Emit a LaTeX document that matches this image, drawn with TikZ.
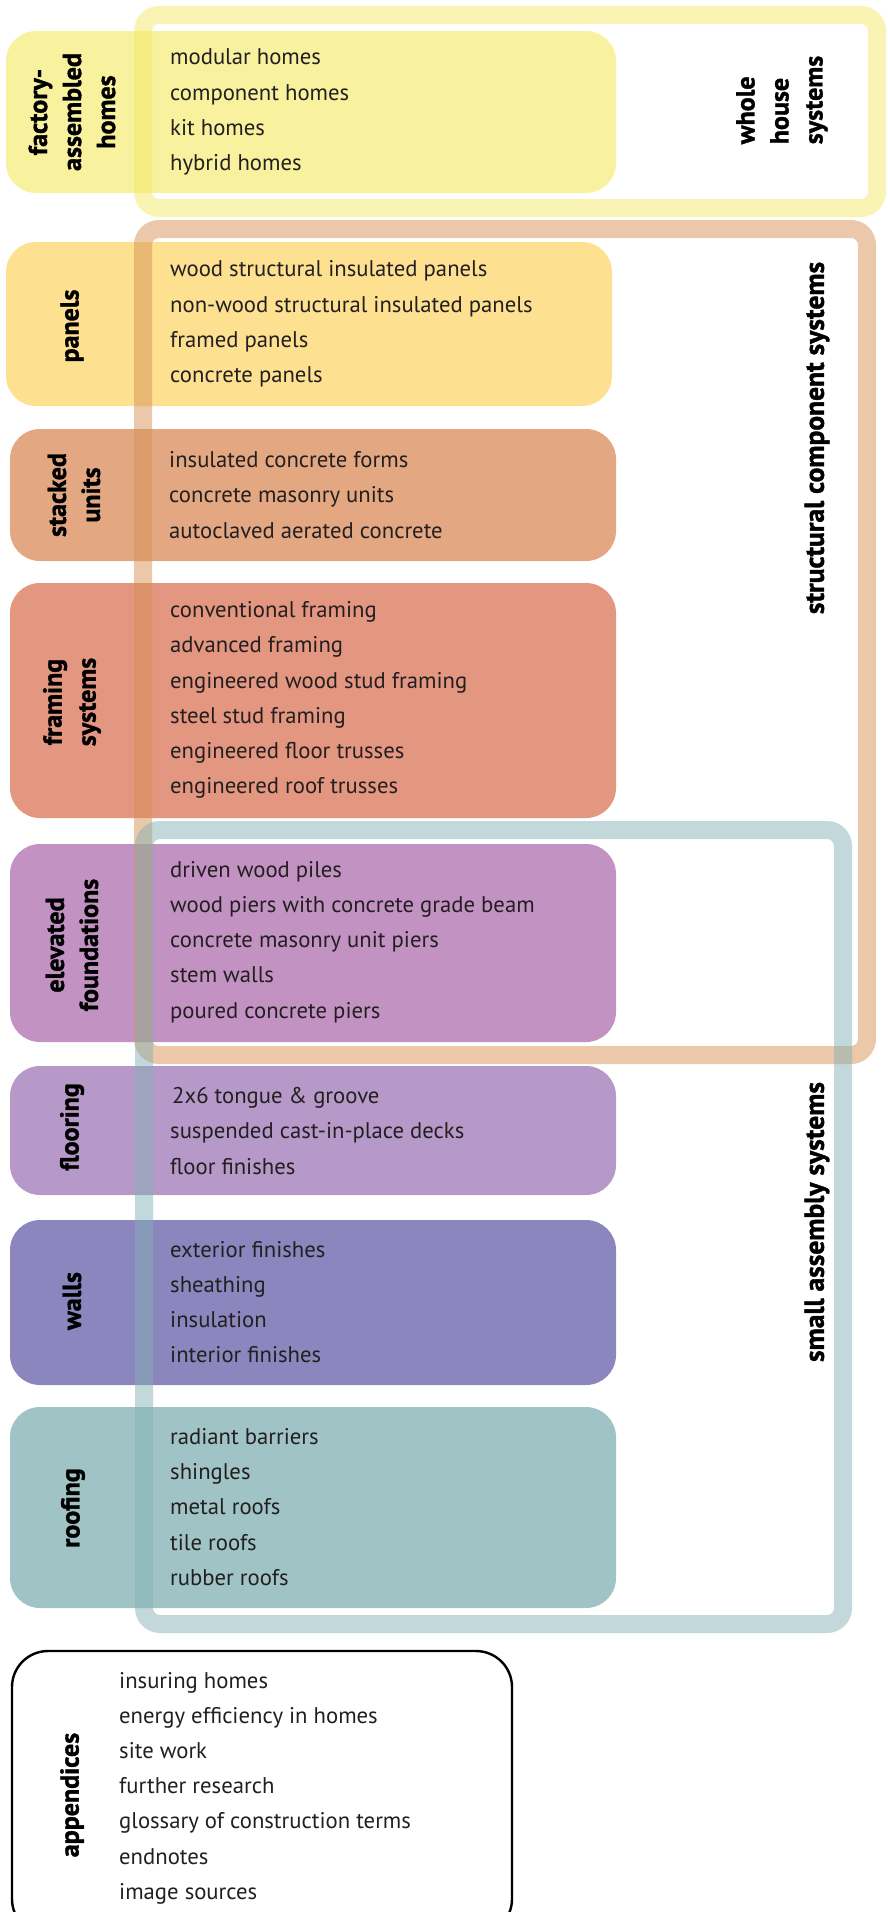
\documentclass[tikz,border=0pt]{standalone}
\usepackage{fontspec}
\setmainfont{PT Sans}
\newfontfamily\labfam{PT Sans}[BoldFeatures={FakeBold=1.4}]
\definecolor{cFac}{RGB}{248,241,158}
\definecolor{cPan}{RGB}{253,225,145}
\definecolor{cSta}{RGB}{227,168,130}
\definecolor{cFra}{RGB}{227,150,128}
\definecolor{cFou}{RGB}{194,146,195}
\definecolor{cFlo}{RGB}{182,153,200}
\definecolor{cWal}{RGB}{139,134,190}
\definecolor{cRoo}{RGB}{160,195,197}
\definecolor{rWhole}{RGB}{243,233,105}
\definecolor{rStruct}{RGB}{215,145,85}
\definecolor{rSmall}{RGB}{133,177,181}
\definecolor{ink}{RGB}{35,31,32}
\newcommand\labfnt{\labfam\bfseries\fontsize{26}{34}\selectfont}
\newcommand\biglabfnt{\labfam\bfseries\fontsize{27.5}{35}\selectfont}
\newcommand\itmfnt{\fontsize{22.7}{35.2}\selectfont}
\begin{document}
\begin{tikzpicture}[x=1pt,y=-1pt,
  catbox/.style={rounded corners=30pt, inner sep=0pt, outer sep=0pt, anchor=north west, draw=none},
  ring/.style={line width=18pt, rounded corners=16pt, draw opacity=0.5},
  lab/.style={font=\labfnt, text=black, align=center, rotate=90, inner sep=0pt},
  biglab/.style={lab, font=\biglabfnt},
  itm/.style={font=\itmfnt, text=ink, align=left, anchor=west, inner sep=0pt}]
\useasboundingbox (0,0) rectangle (888,1912);
\clip (0,0) rectangle (888,1912);
% category boxes
\node[catbox, fill=cFac, minimum width=610pt, minimum height=162pt] (fac) at (6,31) {};
\node[catbox, fill=cPan, minimum width=606pt, minimum height=164pt] (pan) at (6,242) {};
\node[catbox, fill=cSta, minimum width=606pt, minimum height=132pt] (sta) at (10,429) {};
\node[catbox, fill=cFra, minimum width=606pt, minimum height=235pt] (fra) at (10,583) {};
\node[catbox, fill=cFou, minimum width=606pt, minimum height=198pt] (fou) at (10,844) {};
\node[catbox, fill=cFlo, minimum width=606pt, minimum height=129pt] (flo) at (10,1066) {};
\node[catbox, fill=cWal, minimum width=606pt, minimum height=165pt] (wal) at (10,1220) {};
\node[catbox, fill=cRoo, minimum width=606pt, minimum height=201pt] (roo) at (10,1407) {};
\node[catbox, rounded corners=36pt, draw=black, line width=2.4pt, minimum width=500pt, minimum height=284pt] (app) at (12,1651) {};
% grouping rings
\draw[ring, draw=rWhole] (143,15) rectangle (877,208);
\draw[ring, draw=rStruct] (143,229) rectangle (867,1055);
\draw[ring, draw=rSmall] (144,830) rectangle (843,1624);
% labels
\node[lab] (lfac) at (72,112) {factory-\\assembled\\homes};
\node[lab] (lpan) at (72,326) {panels};
\node[lab] (lsta) at (74,495) {stacked\\units};
\node[lab] (lfra) at (72,702) {framing\\systems};
\node[lab] (lfou) at (72,945) {elevated\\foundations};
\node[lab] (lflo) at (72,1127) {flooring};
\node[lab] (lwal) at (72,1301) {walls};
\node[lab] (lroo) at (73,1508) {roofing};
\node[lab] (lapp) at (72,1795) {appendices};
\node[lab, align=left] (lwhole) at (782,100) {whole\\house\\systems};
\node[biglab] (lstruct) at (817,438) {structural component systems};
\node[biglab] (lsmall) at (817,1222) {small assembly systems};
% items
\node[itm] (ifac) at (170,112) {modular homes\\component homes\\kit homes\\hybrid homes};
\node[itm] (ipan) at (170,324) {wood structural insulated panels\\non-wood structural insulated panels\\framed panels\\concrete panels};
\node[itm] (ista) at (169,495) {insulated concrete forms\\concrete masonry units\\autoclaved aerated concrete};
\node[itm] (ifra) at (170,700) {conventional framing\\advanced framing\\engineered wood stud framing\\steel stud framing\\engineered floor trusses\\engineered roof trusses};
\node[itm] (ifou) at (170,942) {driven wood piles\\wood piers with concrete grade beam\\concrete masonry unit piers\\stem walls\\poured concrete piers};
\node[itm] (iflo) at (170,1131) {\hspace*{2pt}2x6 tongue \& groove\\suspended cast-in-place decks\\floor finishes};
\node[itm] (iwal) at (170,1302) {exterior finishes\\sheathing\\insulation\\interior finishes};
\node[itm] (iroo) at (170,1507) {radiant barriers\\shingles\\metal roofs\\tile roofs\\rubber roofs};
\node[itm] (iapp) at (119,1788) {insuring homes\\energy efficiency in homes\\site work\\further research\\glossary of construction terms\\endnotes\\image sources};
\end{tikzpicture}
\end{document}
